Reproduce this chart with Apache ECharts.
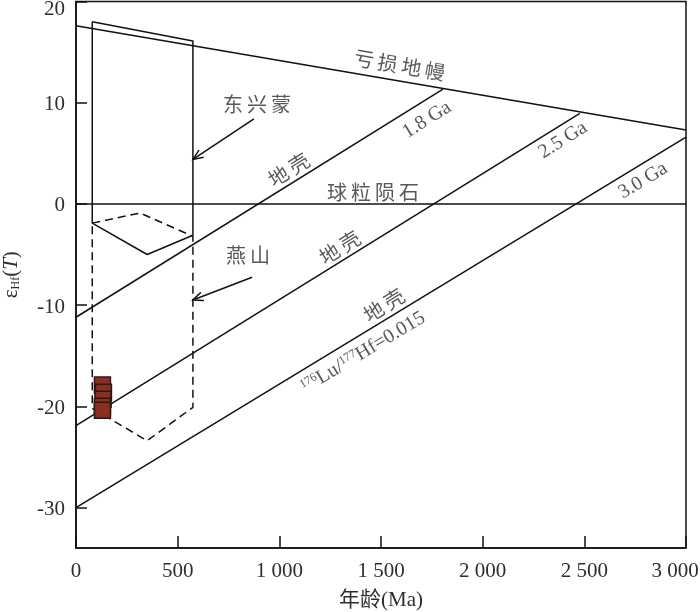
<!DOCTYPE html>
<html><head><meta charset="utf-8">
<script src="https://cdn.jsdelivr.net/npm/echarts@6/dist/echarts.min.js"></script>
<style>html,body{margin:0;padding:0;background:#fff}#c{width:700px;height:612px}</style>
</head><body><div id="c"></div>
<script>
// ---- data ----
const xTicks = [0, 500, 1000, 1500, 2000, 2500, 3000];
const yTicks = [-30, -20, -10, 0, 10, 20];
const depletedMantle = [[0, 17.6], [3000, 7.3]];
const chondrite = [[0, 0], [3000, 0]];
const crust18 = [[0, -11.2], [1805, 11.35]];
const crust25 = [[0, -21.9], [2478, 8.95]];
const crust30 = [[0, -30], [3000, 6.6]];
const dongxingmeng = [[80, 18.0], [575, 16.1], [575, -3.1], [350, -5.0], [80, -1.9], [80, 18.0]];
const yanshan = [[80, -1.9], [315, -0.9], [575, -3.2], [575, -20.1], [350, -23.4], [80, -20.2], [80, -1.9]];
const samples = [[130, -17.9], [135, -18.6], [133, -19.3], [130, -20.0], [130, -20.4]];
const arrowFrom = [[875, 8.4], [866, -7.25]];
const arrowTo = [[575, 4.4], [575, -9.5]];
const annoText = ['亏\u2009损\u2009地\u2009幔', '1.8 Ga', '2.5 Ga', '3.0 Ga', '球\u2009粒\u2009陨\u2009石',
  '东\u2009兴\u2009蒙', '燕\u2009山', '地\u2009壳', '地\u2009壳', '地\u2009壳', '{sup|176}Lu/{sup|177}Hf=0.015'];
const annoAt = [[1589, 13.5], [1726, 8.3], [2395, 6.3], [2789, 2.3], [1461, 0.9],
  [890, 9.6], [846, -5.3], [1052, 3.2], [1303, -4.5], [1520, -10.2], [1412, -14.7]];
const annoRot = [-10, 32, 32, 31, 0, 0, 0, 32, 32, 32, 31];

// ---- chart ----
const FONT = "'Liberation Serif', 'Noto Sans CJK SC', serif";
const INK = '#111';
const TXT = '#2e2e2e';
const chart = echarts.init(document.getElementById('c'));
const lineS = (data, dashed) => ({
  type: 'line', data, showSymbol: false, silent: true, animation: false,
  lineStyle: { color: INK, width: 1.5, type: dashed ? [8, 5] : 'solid' }, z: 2
});
const fmtX = v => v >= 1000 ? Math.floor(v / 1000) + ' ' + String(v % 1000).padStart(3, '0') : String(v);
chart.setOption({
  backgroundColor: '#fff',
  animation: false,
  grid: { left: 76, top: 1.5, right: 14, bottom: 64, show: true, borderColor: INK, borderWidth: 1.5,
    containLabel: false, outerBoundsMode: 'none' },
  xAxis: {
    type: 'value', min: 0, max: 3000, interval: 500,
    name: '年龄(Ma)', nameLocation: 'middle', nameGap: 42,
    nameTextStyle: { fontFamily: FONT, fontSize: 21, color: TXT },
    axisLine: { onZero: false, lineStyle: { color: INK, width: 1.5 } },
    axisTick: { inside: true, length: 12, lineStyle: { color: INK, width: 1.5 }, customValues: xTicks },
    axisLabel: {
      customValues: xTicks, margin: 13, fontFamily: FONT, fontSize: 21, color: TXT,
      formatter: v => v === 3000 ? '{last|' + fmtX(v) + '}' : fmtX(v),
      rich: { last: { fontFamily: FONT, fontSize: 21, color: TXT, padding: [0, 22, 0, 0] } }
    },
    splitLine: { show: false }
  },
  yAxis: {
    type: 'value', min: -34, max: 20,
    name: '{e|ε}{sub|Hf}{p|(}{t|T}{p|)}', nameLocation: 'middle', nameGap: 54, nameRotate: 90,
    nameTextStyle: {
      color: TXT,
      rich: {
        e: { fontFamily: FONT, fontSize: 21, color: TXT },
        sub: { fontFamily: FONT, fontSize: 12, color: TXT, verticalAlign: 'bottom' },
        p: { fontFamily: FONT, fontSize: 21, color: TXT },
        t: { fontFamily: FONT, fontSize: 21, fontStyle: 'italic', color: TXT }
      }
    },
    axisLine: { onZero: false, lineStyle: { color: INK, width: 1.5 } },
    axisTick: { inside: true, length: 11, lineStyle: { color: INK, width: 1.5 }, customValues: yTicks },
    axisLabel: {
      customValues: yTicks, margin: 11, fontFamily: FONT, fontSize: 21, color: TXT,
      formatter: v => v === 20 ? '{top|20}' : '{n|' + v + '}',
      rich: {
        top: { fontFamily: FONT, fontSize: 21, color: TXT, padding: [16, 0, 0, 0] },
        n: { fontFamily: FONT, fontSize: 21, color: TXT, padding: [4, 0, 0, 0] }
      }
    },
    splitLine: { show: false }
  },
  series: [
    lineS(depletedMantle), lineS(chondrite), lineS(crust18), lineS(crust25), lineS(crust30),
    lineS(dongxingmeng), lineS(yanshan, true),
    {
      type: 'custom', silent: true, z: 3,
      data: arrowFrom.map((a, i) => [a[0], a[1], arrowTo[i][0], arrowTo[i][1]]),
      encode: { x: [0, 2], y: [1, 3] },
      renderItem: (params, api) => {
        const p0 = api.coord([api.value(0), api.value(1)]);
        const p1 = api.coord([api.value(2), api.value(3)]);
        const ang = Math.atan2(p1[1] - p0[1], p1[0] - p0[0]);
        const L = 11, w = 0.4;
        const h1 = [p1[0] - L * Math.cos(ang - w), p1[1] - L * Math.sin(ang - w)];
        const h2 = [p1[0] - L * Math.cos(ang + w), p1[1] - L * Math.sin(ang + w)];
        const st = { stroke: INK, lineWidth: 1.5, fill: null };
        return { type: 'group', children: [
          { type: 'polyline', shape: { points: [p0, p1] }, style: st },
          { type: 'polyline', shape: { points: [h1, p1, h2] }, style: st }
        ] };
      }
    },
    {
      type: 'scatter', silent: true, z: 5, symbol: 'rect', symbolSize: 16,
      itemStyle: { color: '#8c2e22', borderColor: '#2a1a14', borderWidth: 1.5, opacity: 1 },
      data: samples
    },
    {
      type: 'scatter', silent: true, z: 4, symbolSize: 0,
      data: annoAt.map((p, i) => ({
        value: p,
        label: { show: true, position: 'inside', rotate: annoRot[i], formatter: annoText[i] }
      })),
      label: {
        fontFamily: FONT, fontSize: 20, color: TXT, align: 'center', verticalAlign: 'middle',
        rich: {
          sup: { fontFamily: FONT, fontSize: 12, color: TXT, verticalAlign: 'top' }
        }
      }
    }
  ]
});
</script></body></html>
